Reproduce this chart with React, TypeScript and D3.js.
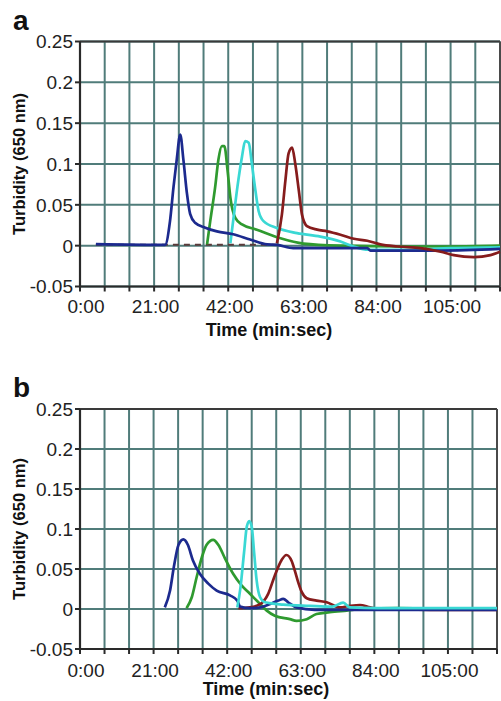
import React from "react";
import * as d3 from "d3";

// ---------- data (time in minutes, turbidity at 650 nm) ----------
const yTicks = [0.25, 0.2, 0.15, 0.1, 0.05, 0, -0.05];
const yTickLabels = ["0.25", "0.2", "0.15", "0.1", "0.05", "0", "-0.05"];
const xGridMinutes = d3.range(0, 120, 7);
const xTickMinutes = [0, 21, 42, 63, 84, 105];
const xTickLabels = ["0:00", "21:00", "42:00", "63:00", "84:00", "105:00"];

// Panel a
const navyA_t = [4.5, 24.1, 25.5, 26.5, 27.4, 28.4, 29.3, 30.3, 31.2, 32.6, 35.5, 38.8, 43.4, 48.2, 53, 55.8, 60.4, 81.4, 82.3, 102.2, 119];
const navyA_v = [0.002, 0.001, 0.030, 0.072, 0.105, 0.136, 0.105, 0.064, 0.039, 0.028, 0.022, 0.0175, 0.014, 0.0075, 0.0015, 0.001, -0.003, -0.003, -0.006, -0.006, -0.004];
const greenA_t = [36, 36.9, 38.3, 39.2, 40.2, 40.9, 41.8, 42.6, 44, 45.9, 50.1, 56.8, 63.3, 73.8, 90, 105, 119];
const greenA_v = [0.0016, 0.030, 0.072, 0.105, 0.122, 0.122, 0.0925, 0.059, 0.034, 0.026, 0.0196, 0.009, 0.0025, 0, -0.001, -0.001, 0];
const cyanA_t = [42.6, 43.5, 44.6, 45.9, 46.8, 47.8, 48.7, 49.7, 50.6, 52, 55.8, 61.5, 68.1, 73.8, 77.5, 81.7, 92.8, 105, 119];
const cyanA_v = [0.003, 0.034, 0.072, 0.109, 0.128, 0.126, 0.10, 0.0675, 0.0425, 0.030, 0.0216, 0.0154, 0.011, 0.005, -0.001, -0.005, -0.005, -0.003, -0.002];
const maroonA_t = [55.8, 57.2, 58.2, 59.1, 60.1, 61, 62, 62.9, 64.3, 67.2, 70, 73.8, 77.6, 81.4, 85.1, 89.9, 96.5, 102.2, 105.9, 111.6, 116.3, 119];
const maroonA_v = [0.003, 0.038, 0.08, 0.113, 0.12, 0.10, 0.0675, 0.038, 0.024, 0.0196, 0.0175, 0.0134, 0.0084, 0.006, 0.0016, -0.001, -0.003, -0.0075, -0.0116, -0.014, -0.0116, -0.0075];
const baseA_t = [4.5, 55.8];
const baseA_v = [0.001, 0.001];

// Panel b
const navyB_t = [24.2, 25.7, 26.8, 28.1, 29.5, 30.8, 32.2, 34.2, 36.6, 39, 42.8, 44.9, 45.7, 48.5, 51.4, 56.6, 58, 59.4, 61.8, 67, 80, 100, 119];
const navyB_v = [0.002, 0.023, 0.053, 0.080, 0.087, 0.080, 0.061, 0.044, 0.0317, 0.023, 0.017, 0.0105, 0.003, 0.001, 0.002, 0.0105, 0.0127, 0.0084, 0.002, -0.001, -0.001, -0.001, -0.001];
const greenB_t = [30.4, 31.9, 33.3, 34.8, 36.1, 38, 39.5, 41.4, 43.7, 46.1, 48.5, 50.9, 53.3, 55.6, 59.9, 61.8, 64.7, 67.5, 71.3, 76.1, 80.8, 90.4, 105, 119];
const greenB_v = [0.001, 0.0147, 0.040, 0.065, 0.080, 0.0865, 0.080, 0.063, 0.044, 0.0295, 0.019, 0.0084, -0.002, -0.0085, -0.0127, -0.0148, -0.0127, -0.0063, -0.004, -0.002, 0, 0.001, 0, 0];
const cyanB_t = [44.9, 45.8, 46.8, 47.6, 48.3, 49, 49.7, 50.4, 51.4, 52.8, 58, 65.6, 72, 75.1, 77, 85, 100, 119];
const cyanB_v = [0.002, 0.027, 0.070, 0.103, 0.110, 0.103, 0.070, 0.036, 0.0147, 0.0084, 0.0055, 0.004, 0.003, 0.008, 0.002, 0.001, 0.001, 0.001];
const maroonB_t = [45.2, 48.5, 51.4, 53.7, 55.6, 57.5, 58.9, 60.4, 61.3, 62.3, 63.3, 64.7, 67.5, 70.4, 74.2, 77.1, 79.9, 82.8, 85.6, 100, 119];
const maroonB_v = [0.001, 0.002, 0.006, 0.019, 0.042, 0.061, 0.0675, 0.060, 0.048, 0.033, 0.021, 0.0135, 0.0105, 0.0084, 0.002, 0.004, 0.005, 0.002, 0, -0.001, -0.001];

const NAVY = "#1c2a8e";
const GREEN = "#2f9a2f";
const CYAN = "#3ad8d4";
const MAROON = "#861c1c";
const GRID = "#507c7a";
const FONT = "'Liberation Sans', Arial, sans-serif";

type Series = { t: number[]; v: number[]; color: string; dash?: string; width?: number };

const zip = (t: number[], v: number[]) => t.map((x, i) => [x, v[i]] as [number, number]);

function Panel(props: {
  label: string; labelY: number; top: number; bottom: number; left: number; right: number;
  tickLabelY: number; titleY: number; titleX: number; series: Series[];
}) {
  const { label, labelY, top, bottom, left, right, tickLabelY, titleY, titleX, series } = props;
  const x = d3.scaleLinear().domain([0, 119]).range([left, right]);
  const y = d3.scaleLinear().domain([-0.05, 0.25]).range([bottom, top]);
  const line = d3
    .line<[number, number]>()
    .x((d) => x(d[0]))
    .y((d) => y(d[1]))
    .curve(d3.curveMonotoneX);
  return (
    <g>
      <text x={13} y={labelY} fontFamily={FONT} fontWeight="bold" fontSize={28} fill="#111">{label}</text>
      {/* grid */}
      {xGridMinutes.map((m) => (
        <line key={"vx" + m} x1={x(m)} x2={x(m)} y1={top} y2={bottom} stroke={GRID} strokeWidth={2} />
      ))}
      {yTicks.map((v) => (
        <line key={"hy" + v} x1={left} x2={right} y1={y(v)} y2={y(v)} stroke={GRID} strokeWidth={2} />
      ))}
      {/* frame */}
      <line x1={left} x2={right} y1={top} y2={top} stroke="#3a3a3a" strokeWidth={2} />
      <line x1={right} x2={right} y1={top} y2={bottom} stroke="#4a4a4a" strokeWidth={2} />
      {/* series */}
      {series.map((s, i) => (
        <path key={i} d={line(zip(s.t, s.v)) || ""} fill="none" stroke={s.color}
          strokeWidth={s.width ?? 2.7} strokeDasharray={s.dash} strokeLinejoin="round" />
      ))}
      {/* axes */}
      <line x1={left} x2={left} y1={top} y2={bottom + 1} stroke="#2a2a2a" strokeWidth={2.2} />
      <line x1={left} x2={right} y1={bottom} y2={bottom} stroke="#2a2a2a" strokeWidth={2.2} />
      {yTicks.map((v, i) => (
        <g key={"yt" + v}>
          <line x1={left - 5} x2={left} y1={y(v)} y2={y(v)} stroke="#2a2a2a" strokeWidth={2} />
          <text x={left - 7} y={y(v)} dy="0.36em" textAnchor="end" fontFamily={FONT} fontSize={19} fill="#222">{yTickLabels[i]}</text>
        </g>
      ))}
      {xGridMinutes.map((m) => (
        <line key={"xt" + m} x1={x(m)} x2={x(m)} y1={bottom} y2={bottom + 5} stroke="#2a2a2a" strokeWidth={2} />
      ))}
      {xTickMinutes.map((m, i) => (
        <text key={"xl" + m} x={x(m) + (i === 0 ? 6 : 1.5)} y={tickLabelY} textAnchor="middle" fontFamily={FONT} fontSize={19} fill="#222">{xTickLabels[i]}</text>
      ))}
      <text x={titleX} y={titleY} textAnchor="middle" fontFamily={FONT} fontWeight="bold" fontSize={18} fill="#111">Time (min:sec)</text>
      <text transform={`translate(25,${(top + bottom) / 2}) rotate(-90)`} textAnchor="middle" fontFamily={FONT} fontWeight="bold" fontSize={16.5} fill="#111">Turbidity (650 nm)</text>
    </g>
  );
}

export default function App() {
  const seriesA: Series[] = [
    { t: baseA_t, v: baseA_v, color: "#5a3a3a", dash: "6 5", width: 2 },
    { t: greenA_t, v: greenA_v, color: GREEN },
    { t: cyanA_t, v: cyanA_v, color: CYAN },
    { t: navyA_t, v: navyA_v, color: NAVY },
    { t: maroonA_t, v: maroonA_v, color: MAROON },
  ];
  const seriesB: Series[] = [
    { t: greenB_t, v: greenB_v, color: GREEN },
    { t: maroonB_t, v: maroonB_v, color: MAROON },
    { t: navyB_t, v: navyB_v, color: NAVY },
    { t: cyanB_t, v: cyanB_v, color: CYAN },
  ];
  return (
    <svg width={501} height={701} style={{ position: "absolute", left: 0, top: 0, background: "#fff" }}>
      <rect width={501} height={701} fill="#fff" />
      <Panel label="a" labelY={30} top={41.5} bottom={286.5} left={80} right={500} tickLabelY={313} titleY={336} titleX={269} series={seriesA} />
      <Panel label="b" labelY={397} top={409} bottom={649} left={80} right={497} tickLabelY={677} titleY={695} titleX={266} series={seriesB} />
    </svg>
  );
}
